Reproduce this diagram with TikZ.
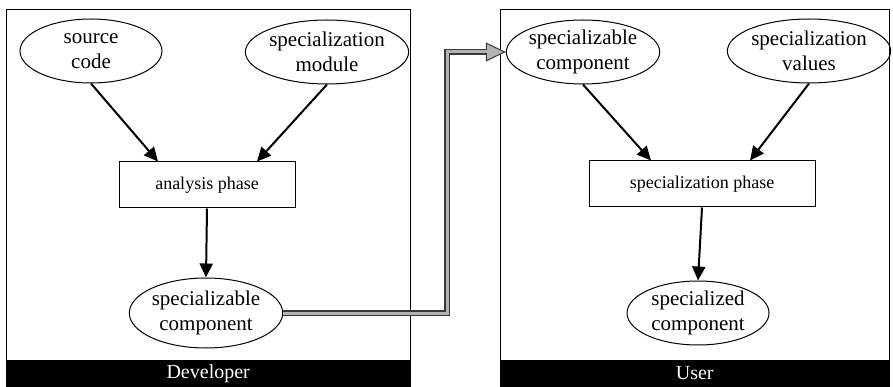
\documentclass[tikz,border=0pt]{standalone}
\usepackage{fontspec}
\setmainfont{Liberation Serif}
\usetikzlibrary{shapes.geometric,arrows.meta,calc}
\begin{document}
\begin{tikzpicture}[x=1pt,y=-1pt,
 ell/.style={draw, ellipse, minimum width=142pt, minimum height=64pt, inner sep=0pt, align=center, font=\fontsize{21}{25}\selectfont, line width=1pt},
 box/.style={draw, rectangle, minimum height=46pt, font=\fontsize{18}{22}\selectfont, line width=1pt},
 arr/.style={-{Triangle[length=14pt,width=13pt]}, line width=2pt},
 panel/.style={draw, line width=1pt, minimum height=378pt, inner sep=0pt, anchor=north west},
 bar/.style={fill=black, text=white, font=\fontsize{20}{23}\selectfont, minimum height=27pt, inner sep=0pt, anchor=south west},
 conndark/.style={line width=5.5pt, gray!45!black, -{Triangle[length=20pt,width=19pt,line width=1pt,fill=gray!60]}},
 connlight/.style={line width=3pt, gray!60}]
\useasboundingbox (0,0) rectangle (893,387);
% panels
\node[panel, minimum width=404pt] (devpanel) at (6,9) {};
\node[bar, minimum width=404pt] (devbar) at (6,387) {Developer};
\node[panel, minimum width=389pt] (userpanel) at (500,9) {};
\node[bar, minimum width=389pt] (userbar) at (500,387) {User};
% developer nodes
\node[ell] (src) at (91,51) {source\\code};
\node[ell] (mod) at (327,52) {specialization\\module};
\node[box, minimum width=176pt] (ana) at (207,185) {analysis phase};
\node[ell, minimum height=70pt] (spc1) at (206,313) {specializable\\component};
% user nodes
\node[ell] (spc2) at (583,52) {specializable\\component};
\node[ell, minimum width=132pt] (val) at (809,51) {specialization\\values};
\node[box, minimum width=226pt] (spp) at (702,184) {specialization phase};
\node[ell] (spd) at (698,313) {specialized\\component};
% arrows
\draw[arr] (src.south) -- ($(ana.north)+(-49,0)$);
\draw[arr] (mod.south) -- ($(ana.north)+(50,0)$);
\draw[arr] (ana.south) -- (spc1.north);
\draw[arr] (spc2.south) -- ($(spp.north)+(-51,0)$);
\draw[arr] (val.south) -- ($(spp.north)+(48,0)$);
\draw[arr] (spp.south) -- (spd.north);
% gray connector
\coordinate (g1) at (447,313);
\coordinate (g2) at (447,52);
\draw[conndark] (spc1.east) -- (g1) -- (g2) -- (spc2.west);
\draw[connlight] (spc1.east) -- (g1) -- (g2) -- ($(spc2.west)+(-19,0)$);
\end{tikzpicture}
\end{document}
